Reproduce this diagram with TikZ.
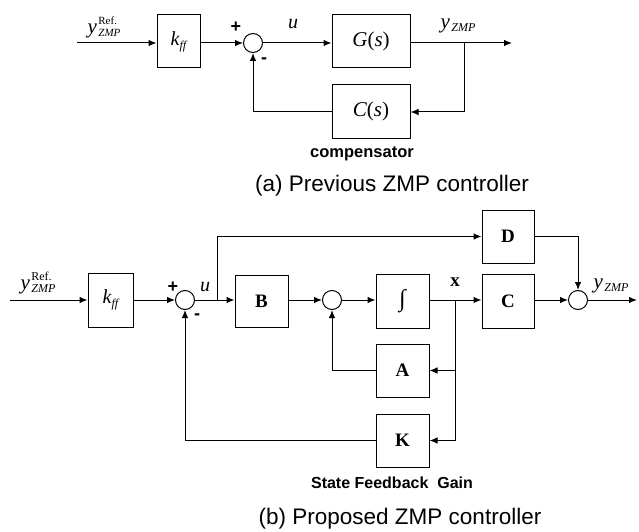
\documentclass[tikz,border=0pt]{standalone}
\usepackage{fontspec}
\setmainfont{Liberation Serif}
\setsansfont{Liberation Sans}
\usetikzlibrary{arrows.meta}
\newcommand{\fsz}[1]{\fontsize{#1}{#1}\selectfont}
\newcommand{\yreflabel}[1]{{\fsz{21}\itshape y}\kern1.5pt\rlap{\raisebox{9pt}{\fsz{#1}Ref.}}\raisebox{-3.5pt}{\fsz{#1}\itshape ZMP}}
\newcommand{\yzmp}{{\fsz{21}\itshape y}\kern1.5pt\raisebox{-3pt}{\fsz{12}\itshape ZMP}}
\begin{document}
\begin{tikzpicture}[x=1pt,y=-1pt,
  line width=1pt,
  blk/.style={draw,line width=1pt,inner sep=0pt},
  sumc/.style={draw,circle,line width=1pt,minimum size=19pt,inner sep=0pt},
  arr/.style={-{Latex[length=8pt,width=6.5pt]}},
  lab/.style={inner sep=0pt},
  sgn/.style={inner sep=0pt,font=\sffamily\bfseries\fsz{18}},
  it/.style={inner sep=0pt,font=\itshape\fsz{20}}]
\useasboundingbox (0,0) rectangle (639,532);
% ---------- (a) ----------
\coordinate (ain) at (77,43);
\node[blk,minimum width=43pt,minimum height=53pt] (akff) at (178.5,41.5) {};
\node[lab] (akffl) at (akff.center) {{\fsz{20}\itshape k}\raisebox{-4pt}{\fsz{12}\itshape ff}};
\node[sumc] (as) at (253,43) {};
\node[blk,minimum width=78pt,minimum height=53pt,font=\fsz{21}] (aG) at (371,41.5) {\itshape G\upshape(\itshape s\upshape)};
\node[blk,minimum width=78pt,minimum height=53pt,font=\fsz{21}] (aC) at (371,111.5) {\itshape C\upshape(\itshape s\upshape)};
\coordinate (aout) at (512,43);
\coordinate (abr) at (464,43);
\draw[arr] (ain) -- (akff.west |- ain);
\draw[arr] (akff.east |- ain) -- (as.west);
\draw[arr] (as.east) -- (aG.west |- as);
\draw[arr] (aG.east |- as) -- (aout);
\draw[arr] (abr) -- (abr |- 0,112) -- (aC.east |- 0,112);
\draw[arr] (aC.west |- 0,112) -- (as |- 0,112) -- (as.south);
\node[lab] (ayref) at (104,27) {\yreflabel{11}};
\node[sgn] (aplus) at (236,27) {+};
\node[sgn] (aminus) at (264,61) {-};
\node[it] (au) at (293,24) {u};
\node[lab] (ayz) at (458,26) {\yzmp};
\node[lab,font=\sffamily\bfseries\fsz{16.5}] (acomp) at (362,154) {compensator};
\node[lab,font=\sffamily\fsz{22.5}] (acap) at (392,186) {(a) Previous ZMP controller};
% ---------- (b) ----------
\coordinate (bin) at (10,300);
\node[blk,minimum width=45pt,minimum height=54pt] (bkff) at (110.5,300) {};
\node[lab] (bkffl) at (bkff.center) {{\fsz{20}\itshape k}\raisebox{-4pt}{\fsz{12}\itshape ff}};
\node[sumc] (s1) at (185,300) {};
\node[blk,minimum width=53pt,minimum height=52pt,font=\bfseries\fsz{19}] (B) at (261.5,301) {B};
\node[sumc] (s2) at (332,300) {};
\node[blk,minimum width=53pt,minimum height=54pt,font=\fsz{24}] (I) at (402.5,301) {∫};
\node[blk,minimum width=52pt,minimum height=54pt,font=\bfseries\fsz{19}] (C) at (508,301) {C};
\node[blk,minimum width=52pt,minimum height=53pt,font=\bfseries\fsz{19}] (D) at (508,236.5) {D};
\node[sumc] (s3) at (578,300) {};
\node[blk,minimum width=53pt,minimum height=53pt,font=\bfseries\fsz{19}] (A) at (402.5,370.5) {A};
\node[blk,minimum width=53pt,minimum height=53pt,font=\bfseries\fsz{19}] (K) at (402.5,440.5) {K};
\coordinate (bout) at (637,300);
\coordinate (ubr) at (217,300);
\coordinate (xbr) at (455,300);
\draw[arr] (bin) -- (bkff.west |- bin);
\draw[arr] (bkff.east |- bin) -- (s1.west);
\draw[arr] (s1.east) -- (B.west |- s1);
\draw[arr] (ubr) -- (ubr |- D.west) -- (D.west);
\draw[arr] (B.east |- s2) -- (s2.west);
\draw[arr] (s2.east) -- (I.west |- s2);
\draw[arr] (I.east |- s2) -- (C.west |- s2);
\draw[arr] (C.east |- s3) -- (s3.west);
\draw[arr] (D.east) -- (s3 |- D.east) -- (s3.north);
\draw[arr] (s3.east) -- (bout);
\draw[arr] (xbr) -- (xbr |- A.east) -- (A.east);
\draw[arr] (xbr |- A.east) -- (xbr |- K.east) -- (K.east);
\draw[arr] (A.west) -- (s2 |- A.west) -- (s2.south);
\draw[arr] (K.west) -- (s1 |- K.west) -- (s1.south);
\node[lab] (byref) at (38,283) {\yreflabel{12}};
\node[sgn] (bplus) at (173,287) {+};
\node[sgn] (bminus) at (197,317) {-};
\node[it] (bu) at (205,287) {u};
\node[lab,font=\bfseries\fsz{19}] (bx) at (455,282) {x};
\node[lab] (byz) at (611,286) {\yzmp};
\node[lab,font=\sffamily\bfseries\fsz{16}] (bsfg) at (392,483) {State Feedback\ \ Gain};
\node[lab,font=\sffamily\fsz{22.5}] (bcap) at (400,519) {(b) Proposed ZMP controller};
\end{tikzpicture}
\end{document}
